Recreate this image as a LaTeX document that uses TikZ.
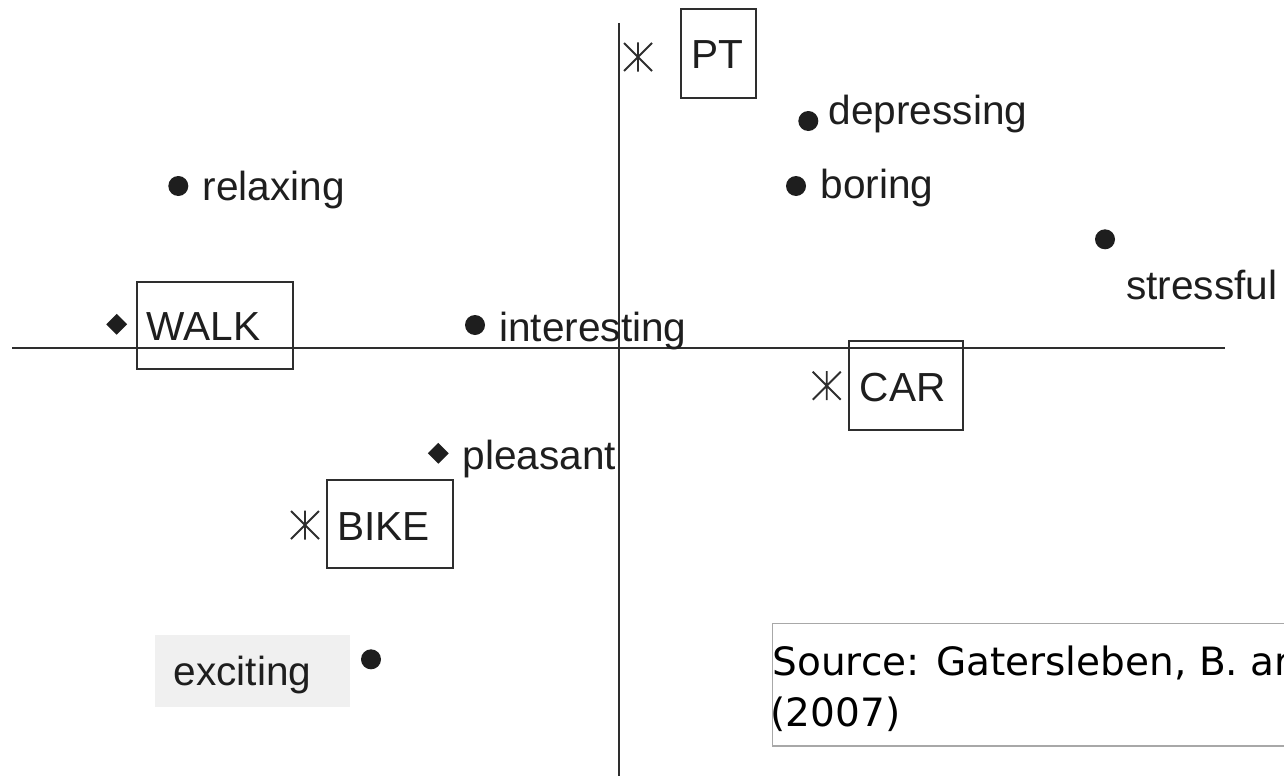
\documentclass[tikz,border=0pt]{standalone}
\usepackage{fontspec}
\setmainfont{Liberation Sans}
\newfontfamily\srcfont{DejaVu Sans}
\usetikzlibrary{shapes.geometric}

\definecolor{ink}{HTML}{1E1E1E}
\definecolor{rule}{HTML}{2E2E2E}
\definecolor{srcframe}{HTML}{A8A8A8}
\definecolor{tagfill}{HTML}{F0F0F0}

\tikzset{
  axisline/.style={draw=rule, line width=1.8},
  lbl/.style={anchor=base west, inner sep=0, text=ink,
              font=\fontsize{40.6}{48}\selectfont},
  srclbl/.style={anchor=base west, inner sep=0, text=black,
                 font=\srcfont\fontsize{39}{48}\selectfont},
  modebox/.style={draw=rule, line width=1.8, inner sep=0},
  dotmark/.style={circle, fill=ink, inner sep=0, minimum size=20},
  diamark/.style={diamond, fill=ink, inner sep=0,
                  minimum width=21, minimum height=21},
  astmark/.pic={
    \draw[rule, line width=1.9]
      (-14,-14) -- (14,14) (-14,14) -- (14,-14) (0,-14.5) -- (0,14.5);
  }
}

\begin{document}
\begin{tikzpicture}[x=1pt, y=-1pt]
\useasboundingbox (0,0) rectangle (1284,776);
\clip (0,0) rectangle (1284,776);

% axes
\coordinate (xl) at (12,348);
\coordinate (xr) at (1225,348);
\coordinate (yt) at (619,23);
\coordinate (yb) at (619,776);
\draw[axisline] (xl) -- (xr);
\draw[axisline] (yt) -- (yb);

% travel modes
\node[modebox, minimum width=74.7, minimum height=89] (ptbox) at (718.3,53.8) {};
\node[lbl] (ptlbl) at (691,69) {PT};
\pic (ptast) at (638,57) {astmark};

\node[modebox, minimum width=114, minimum height=89.3] (carbox) at (906.3,385.3) {};
\node[lbl] (carlbl) at (859.5,401.7) {CAR};
\pic (carast) at (826.7,385.7) {astmark};

\node[modebox, minimum width=156.6, minimum height=87] (walkbox) at (215,325.8) {};
\node[lbl] (walklbl) at (146.5,340) {WALK};
\node[diamark] (walkmark) at (116.7,324.3) {};

\node[modebox, minimum width=126.6, minimum height=88.3] (bikebox) at (390,524.2) {};
\node[lbl] (bikelbl) at (337,540) {BIKE};
\pic (bikeast) at (305,525) {astmark};

% attributes
\node[dotmark] (relaxdot) at (178.3,186) {};
\node[lbl] (relaxlbl) at (202.5,200.5) {relaxing};

\node[dotmark] (depdot) at (808.3,121) {};
\node[lbl] (deplbl) at (828.5,124) {depressing};

\node[dotmark] (bordot) at (796,186) {};
\node[lbl] (borlbl) at (820.5,198) {boring};

\node[dotmark] (strdot) at (1105,239.3) {};
\node[lbl] (strlbl) at (1126,299) {stressful};

\node[dotmark] (intdot) at (475,325) {};
\node[lbl] (intlbl) at (499,341) {interesting};

\node[diamark] (pleasmark) at (438.3,453.3) {};
\node[lbl] (pleaslbl) at (462.5,469) {pleasant};

\node[fill=tagfill, anchor=north west, inner sep=0,
      minimum width=195, minimum height=72] (exctag) at (155,635) {};
\node[lbl] (exclbl) at (173.5,685) {exciting};
\node[dotmark] (excdot) at (371,659.3) {};

% source note, running off the right edge
\node[draw=srcframe, fill=white, line width=1.6, anchor=north west, inner sep=0,
      minimum width=540, minimum height=122.3] (srcbox) at (771.7,622.7) {};
\node[srclbl] (src1) at (772.4,675) {Source: Gatersleben, B. ar};
\node[srclbl] (src2) at (770.5,726) {(2007)};
\end{tikzpicture}
\end{document}
